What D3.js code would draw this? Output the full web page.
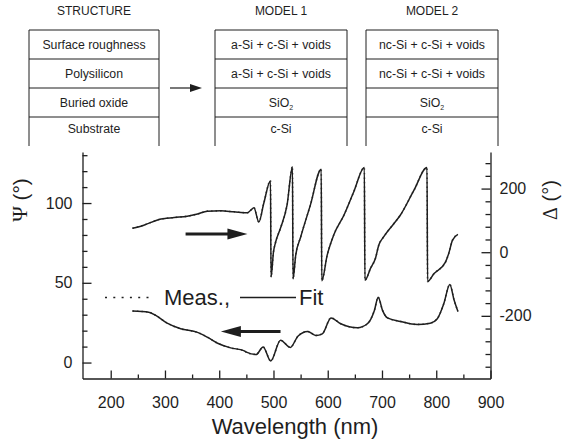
<!DOCTYPE html>
<html>
<head>
<meta charset="utf-8">
<script src="https://cdnjs.cloudflare.com/ajax/libs/d3/7.8.5/d3.min.js"></script>
<style>
  body { margin: 0; background: #fff; }
  svg text { font-family: "Liberation Sans", Arial, sans-serif; fill: #1e1e1e; }
</style>
</head>
<body>
<div id="chart"></div>
<script>
// layer stacks shown above the plot
var structureRows = ["Surface roughness", "Polysilicon", "Buried oxide", "Substrate"];
var model1Rows = ["a-Si + c-Si + voids", "a-Si + c-Si + voids", "SiO_2", "c-Si"];
var model2Rows = ["nc-Si + c-Si + voids", "nc-Si + c-Si + voids", "SiO_2", "c-Si"];
var tableTitles = ["STRUCTURE", "MODEL 1", "MODEL 2"];

// Delta (right axis)
var deltaWl = [240, 261, 289, 317, 341, 360, 378, 403, 427, 452, 458, 464, 473, 482, 494.5,
  495.5, 500, 504, 513, 525, 535, 536, 541, 550, 568, 588, 589, 599, 611, 630,
  648, 667.5, 668.5, 679, 688, 694, 703, 722, 734, 759, 783, 784, 796, 817, 823, 830, 840];
var deltaVal = [75, 85, 103, 109, 113, 120, 129, 130, 127, 124, 132, 140, 95, 153, 225,
  -78, 1, 32, 76, 148, 269, -84, -9, 47, 148, 261, -90, -9, 54, 117,
  190, 266, -88, -50, -19, 22, 48, 90, 117, 195, 266, -92, -67, -31, -4, 38, 56];

// Psi (left axis)
var psiWl = [240, 270, 283, 304, 329, 360, 378, 397, 421, 445, 450, 468, 481, 495, 513, 531,
  545, 563, 578, 590, 606, 624, 655, 673, 686, 693, 701, 710, 734, 765, 789, 802, 814, 825, 833, 840];
var psiVal = [32.3, 31.6, 29.6, 24.7, 21.2, 18.9, 15.9, 12.1, 9.2, 7.5, 6.5, 5, 9.8, 1, 14, 9.5,
  16.5, 19.5, 17, 18, 28, 24.3, 21.8, 24.3, 32.7, 41, 32.7, 28, 25.8, 23.9, 24.7, 27.5, 37, 49, 39, 32];

var xMajor = [200, 300, 400, 500, 600, 700, 800, 900];
var psiMajor = [0, 50, 100];
var deltaMajor = [-200, 0, 200];

var W = 566, H = 441;
var svg = d3.select("#chart").append("svg").attr("width", W).attr("height", H);

var ink = "#1e1e1e";
var serif = "'Liberation Serif', 'Times New Roman', serif";

// ---- layer tables ----
var tables = [
  { x0: 29, x1: 159, rows: structureRows },
  { x0: 215, x1: 347, rows: model1Rows },
  { x0: 366, x1: 498, rows: model2Rows }
];
var rowY = [30, 59, 88, 117, 146];
var rowTextY = [44.5, 73.5, 102.5, 129];

tables.forEach(function (t, ti) {
  var g = svg.append("g");
  g.append("text")
    .attr("x", (t.x0 + t.x1) / 2).attr("y", 11)
    .attr("text-anchor", "middle").attr("dominant-baseline", "central")
    .style("font-size", "12px")
    .text(tableTitles[ti]);
  for (var i = 0; i < 4; i++) {
    g.append("line").attr("x1", t.x0).attr("x2", t.x1)
      .attr("y1", rowY[i]).attr("y2", rowY[i])
      .attr("stroke", ink).attr("stroke-width", 1);
  }
  [t.x0, t.x1].forEach(function (x) {
    g.append("line").attr("x1", x).attr("x2", x)
      .attr("y1", rowY[0]).attr("y2", rowY[4])
      .attr("stroke", ink).attr("stroke-width", 1);
  });
  t.rows.forEach(function (r, i) {
    var txt = g.append("text")
      .attr("x", (t.x0 + t.x1) / 2).attr("y", rowTextY[i])
      .attr("text-anchor", "middle").attr("dominant-baseline", "central")
      .style("font-size", "12.3px");
    var parts = r.split("_");
    txt.append("tspan").text(parts[0]);
    if (parts[1]) {
      txt.append("tspan").attr("dy", 4).style("font-size", "7px").text(parts[1]);
    }
  });
});

// small arrow between structure and model 1
svg.append("line").attr("x1", 170).attr("x2", 192).attr("y1", 88).attr("y2", 88)
  .attr("stroke", ink).attr("stroke-width", 1.2);
svg.append("path").attr("d", "M190,84 L202,88 L190,92 Z").attr("fill", ink);

// ---- plot ----
var x = d3.scaleLinear().domain([148, 900]).range([82.5, 490.5]);
var yPsi = d3.scaleLinear().domain([-10, 132]).range([378.5, 152]);
var yDelta = d3.scaleLinear().domain([-397, 315]).range([378.5, 152]);

function minorTicks(lo, hi, step, skip) {
  var out = [];
  for (var v = lo; v <= hi + 1e-9; v += step) {
    if (skip.indexOf(v) < 0) out.push(v);
  }
  return out;
}
var plain = function (d) { return String(d); };

// x axis
svg.append("g").attr("transform", "translate(0,378.5)")
  .call(d3.axisBottom(x).tickValues(xMajor).tickFormat(plain).tickSizeInner(-8).tickSizeOuter(0).tickPadding(18));
svg.append("g").attr("transform", "translate(0,378.5)")
  .call(d3.axisBottom(x).tickValues(minorTicks(250, 850, 100, [])).tickSizeInner(-4).tickSizeOuter(0).tickFormat(""))
  .select(".domain").remove();

// left axis
svg.append("g").attr("transform", "translate(82.5,0)")
  .call(d3.axisLeft(yPsi).tickValues(psiMajor).tickFormat(plain).tickSizeInner(-9).tickSizeOuter(0).tickPadding(10));
svg.append("g").attr("transform", "translate(82.5,0)")
  .call(d3.axisLeft(yPsi).tickValues(minorTicks(10, 130, 10, [50, 100])).tickSizeInner(-5).tickSizeOuter(0).tickFormat(""))
  .select(".domain").remove();

// right axis
svg.append("g").attr("transform", "translate(490.5,0)")
  .call(d3.axisRight(yDelta).tickValues(deltaMajor).tickFormat(plain).tickSizeInner(-9).tickSizeOuter(0).tickPadding(9));
svg.append("g").attr("transform", "translate(490.5,0)")
  .call(d3.axisRight(yDelta).tickValues(minorTicks(-360, 280, 40, [-200, 0, 200])).tickSizeInner(-5).tickSizeOuter(0).tickFormat(""))
  .select(".domain").remove();

svg.selectAll(".tick text").style("font-size", "16px").attr("fill", ink);
svg.selectAll(".domain, .tick line").attr("stroke", ink).attr("stroke-width", 1.3);

// axis titles
svg.append("text").attr("x", 295).attr("y", 434)
  .attr("text-anchor", "middle").style("font-size", "22px")
  .text("Wavelength (nm)");

var psiT = svg.append("text").attr("transform", "translate(20,200) rotate(-90)")
  .attr("text-anchor", "middle").attr("dominant-baseline", "central")
  .style("font-size", "21px");
psiT.append("tspan").style("font-family", serif).text("Ψ");
psiT.append("tspan").text(" (°)");

var delT = svg.append("text").attr("transform", "translate(550,200) rotate(-90)")
  .attr("text-anchor", "middle").attr("dominant-baseline", "central")
  .style("font-size", "20px");
delT.append("tspan").style("font-family", serif).text("Δ");
delT.append("tspan").text(" (°)");

// curves
var deltaData = deltaWl.map(function (w, i) { return [w, deltaVal[i]]; });
var psiData = psiWl.map(function (w, i) { return [w, psiVal[i]]; });

var lineDelta = d3.line().x(function (d) { return x(d[0]); }).y(function (d) { return yDelta(d[1]); })
  .curve(d3.curveMonotoneX);
var linePsi = d3.line().x(function (d) { return x(d[0]); }).y(function (d) { return yPsi(d[1]); })
  .curve(d3.curveMonotoneX);

// measured (dotted) under fit (solid)
[[deltaData, lineDelta], [psiData, linePsi]].forEach(function (p) {
  svg.append("path").datum(p[0]).attr("d", p[1])
    .attr("fill", "none").attr("stroke", "#555").attr("stroke-width", 1.6)
    .attr("stroke-dasharray", "1.5,3");
  svg.append("path").datum(p[0]).attr("d", p[1])
    .attr("fill", "none").attr("stroke", ink).attr("stroke-width", 1.5);
});

// direction arrows
function bigArrow(xTail, xTip, yPix) {
  var dir = xTip > xTail ? 1 : -1;
  var headLen = 20, half = 5.5;
  svg.append("line").attr("x1", xTail).attr("x2", xTip - dir * headLen + dir * 2)
    .attr("y1", yPix).attr("y2", yPix).attr("stroke", ink).attr("stroke-width", 3);
  svg.append("path")
    .attr("d", "M" + xTip + "," + yPix + " L" + (xTip - dir * headLen) + "," + (yPix - half) +
      " L" + (xTip - dir * headLen) + "," + (yPix + half) + " Z")
    .attr("fill", ink);
}
bigArrow(x(338), x(452), yDelta(57));
bigArrow(x(513), x(403), yPsi(19.5));

// legend
svg.append("line").attr("x1", 105).attr("x2", 154).attr("y1", 297.5).attr("y2", 297.5)
  .attr("stroke", ink).attr("stroke-width", 1.4).attr("stroke-dasharray", "2,6.3");
svg.append("text").attr("x", 164).attr("y", 305).style("font-size", "22px").text("Meas.,");
svg.append("line").attr("x1", 240).attr("x2", 296).attr("y1", 297.5).attr("y2", 297.5)
  .attr("stroke", ink).attr("stroke-width", 1.4);
svg.append("text").attr("x", 299).attr("y", 305).style("font-size", "22px").text("Fit");
</script>
</body>
</html>
